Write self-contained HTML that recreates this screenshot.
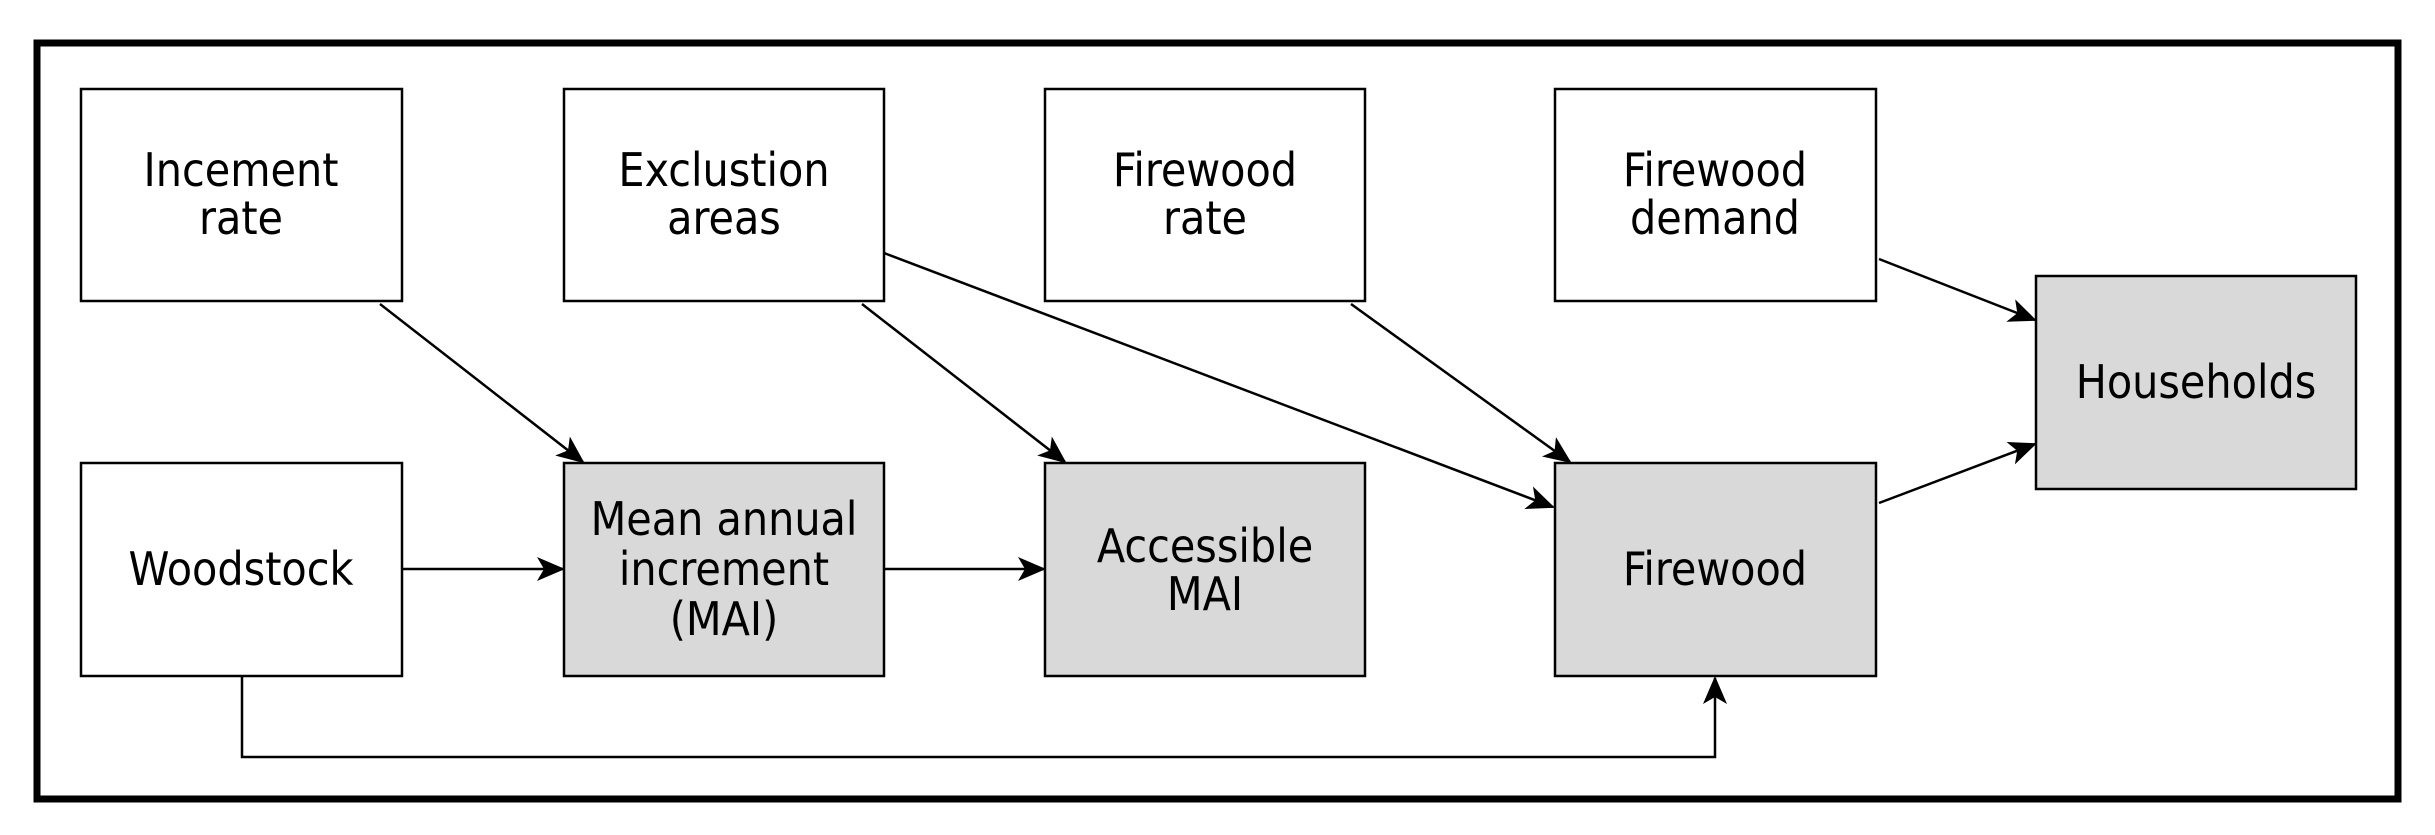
<!DOCTYPE html>
<html><head><style>
html,body{margin:0;padding:0;background:#fff;}
svg text{font-family:"DejaVu Sans Condensed","Liberation Sans Narrow","Liberation Sans",sans-serif;font-size:46px;fill:#000;text-anchor:middle;}
</style></head><body>
<svg width="2435" height="830" viewBox="0 0 2435 830" xmlns="http://www.w3.org/2000/svg">
<defs>
<marker id="b" markerWidth="28" markerHeight="24" refX="26" refY="12" orient="auto" markerUnits="userSpaceOnUse" viewBox="0 0 28 24">
<path d="M0,0 L28,12 L0,24 L7,12 Z" fill="#000"/>
</marker>
</defs>
<rect x="37" y="43" width="2361" height="756" fill="#fff" stroke="#000" stroke-width="7"/>
<g stroke="#000" stroke-width="2.5">
<rect x="81" y="89" width="321" height="212" fill="#fff"/>
<rect x="564" y="89" width="320" height="212" fill="#fff"/>
<rect x="1045" y="89" width="320" height="212" fill="#fff"/>
<rect x="1555" y="89" width="321" height="212" fill="#fff"/>
<rect x="2036" y="276" width="320" height="213" fill="#d9d9d9"/>
<rect x="81" y="463" width="321" height="213" fill="#fff"/>
<rect x="564" y="463" width="320" height="213" fill="#d9d9d9"/>
<rect x="1045" y="463" width="320" height="213" fill="#d9d9d9"/>
<rect x="1555" y="463" width="321" height="213" fill="#d9d9d9"/>
</g>
<g stroke="#000" stroke-width="2.5" fill="none" marker-end="url(#b)">
<line x1="380" y1="304" x2="583" y2="462"/>
<line x1="862" y1="304" x2="1065" y2="462"/>
<line x1="884" y1="253" x2="1553" y2="507"/>
<line x1="1351" y1="304" x2="1570" y2="462"/>
<line x1="1879" y1="259" x2="2035" y2="320"/>
<line x1="1879" y1="503" x2="2035" y2="444"/>
<line x1="402" y1="569" x2="563" y2="569"/>
<line x1="884" y1="569" x2="1044" y2="569"/>
<polyline points="242,676 242,757 1715,757 1715,678"/>
</g>
<text x="241" y="186">Incement</text><text x="241" y="234">rate</text>
<text x="724" y="186">Exclustion</text><text x="724" y="234">areas</text>
<text x="1205" y="186">Firewood</text><text x="1205" y="234">rate</text>
<text x="1715" y="186">Firewood</text><text x="1715" y="234">demand</text>
<text x="2196" y="398">Households</text>
<text x="241" y="585">Woodstock</text>
<text x="724" y="535">Mean annual</text><text x="724" y="585">increment</text><text x="724" y="635">(MAI)</text>
<text x="1205" y="562">Accessible</text><text x="1205" y="610">MAI</text>
<text x="1715" y="585">Firewood</text>
</svg>
</body></html>
